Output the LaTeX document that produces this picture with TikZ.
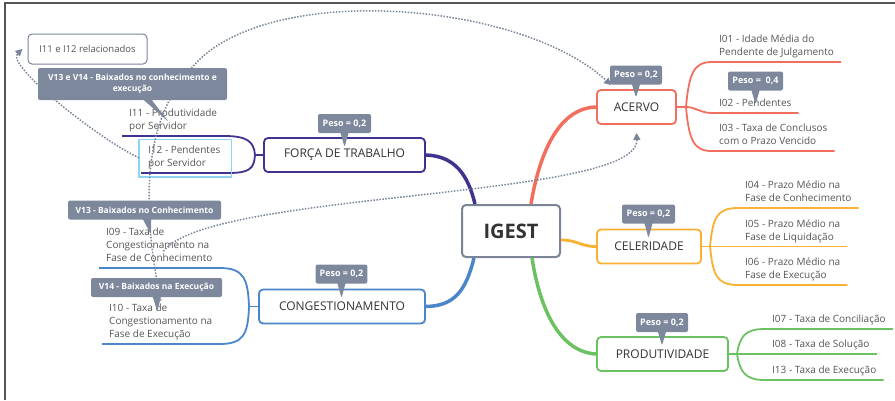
\documentclass[tikz,border=0pt]{standalone}
\usepackage{fontspec}
\setmainfont{Open Sans}
\usetikzlibrary{shapes.callouts, arrows.meta}

\definecolor{acervored}{HTML}{F26E5E}
\definecolor{celorange}{HTML}{F8B133}
\definecolor{prodgreen}{HTML}{6CC262}
\definecolor{forcapurple}{HTML}{3E338F}
\definecolor{congblue}{HTML}{4A86C8}
\definecolor{pesogray}{HTML}{7D889C}
\definecolor{igestgray}{HTML}{7B8597}
\definecolor{reldots}{HTML}{7A8599}
\definecolor{topictext}{HTML}{333333}
\definecolor{subtext}{HTML}{555555}
\definecolor{selblue}{HTML}{8ED4F2}
\definecolor{framegray}{HTML}{555555}

\tikzset{
  root/.style={draw=igestgray, line width=2pt, rounded corners=4pt, fill=white,
    minimum width=98pt, minimum height=52pt,
    font=\fontsize{20}{24}\selectfont\bfseries, text=topictext},
  topic/.style={line width=1.8pt, rounded corners=4pt, fill=white, minimum height=34pt,
    font=\fontsize{12}{14}\selectfont, text=topictext},
  sub/.style={anchor=south west, align=left, inner xsep=7pt, inner ysep=3.5pt,
    text depth=2.5pt, font=\fontsize{10}{13}\selectfont, text=subtext},
  peso/.style={rectangle callout, fill=pesogray, text=white, rounded corners=2pt,
    font=\fontsize{9}{11}\selectfont\bfseries, minimum height=19pt,
    inner xsep=4pt, inner ysep=2pt, callout pointer width=8pt},
  baixa/.style={peso, font=\fontsize{8.5}{11}\selectfont\bfseries},
  limb/.style={line width=3.5pt},
  twig/.style={line width=1.8pt},
  rel/.style={draw=reldots, line width=1.5pt, dash pattern=on 1.5pt off 1.5pt,
    -{Triangle[length=7pt,width=7pt]}},
}

\begin{document}
\begin{tikzpicture}[x=1pt, y=-1pt]
        \useasboundingbox (0,0) rectangle (895,400);
        \draw[framegray, line width=1.5pt] (5,400) -- (5,3) -- (895,3);

        % central topic and main topics
        \node[root] (igest) at (511,231) {IGEST};
        \node[topic, draw=acervored, minimum width=79pt] (acervo) at (636.5,107) {ACERVO};
        \node[topic, draw=celorange, minimum width=104pt] (celer) at (649,246.5) {CELERIDADE};
        \node[topic, draw=prodgreen, minimum width=131pt] (produt) at (662.5,354) {PRODUTIVIDADE};
        \node[topic, draw=forcapurple, minimum width=161pt] (forca) at (344.5,155) {FORÇA DE TRABALHO};
        \node[topic, draw=congblue, minimum width=166pt] (congest) at (342,306.5) {CONGESTIONAMENTO};

        \draw[limb, acervored] ([xshift=20pt]igest.north) .. controls (540,150) and (560,108) .. (acervo.west);
        \draw[limb, forcapurple] ([xshift=-36pt]igest.north) .. controls (468,175) and (455,156) .. (forca.east);
        \draw[limb, congblue] ([xshift=-37pt]igest.south) .. controls (466,290) and (455,306) .. (congest.east);
        \draw[limb, prodgreen] ([xshift=21pt]igest.south) .. controls (540,310) and (560,352) .. (produt.west);
        \draw[line width=2.8pt, celorange] ([yshift=-9pt]igest.east) .. controls (578,240) and (580,246.5) .. (celer.west);

        % subtopics
        \coordinate (afork) at (686,107);
        \coordinate (cfork) at (710,246.5);
        \coordinate (pfork) at (737,354);
        \coordinate (ffork) at (255,155);
        \coordinate (gfork) at (249,306.5);

        \node[sub] (i01) at (712,62) {I01 - Idade Média do\\Pendente de Julgamento};
        \node[sub] (i02) at (712,113) {I02 - Pendentes};
        \node[sub] (i03) at (712,151) {I03 - Taxa de Conclusos\\com o Prazo Vencido};
        \node[sub] (i04) at (738,208) {I04 - Prazo Médio na\\Fase de Conhecimento};
        \node[sub] (i05) at (738,246.5) {I05 - Prazo Médio na\\Fase de Liquidação};
        \node[sub] (i06) at (738,285) {I06 - Prazo Médio na\\Fase de Execução};
        \node[sub] (i07) at (765,329) {I07 - Taxa de Conciliação};
        \node[sub] (i08) at (765,354) {I08 - Taxa de Solução};
        \node[sub] (i13) at (765,380) {I13 - Taxa de Execução};
        \node[sub] (i11) at (122,136) {I11 - Produtividade\\por Servidor};
        \node[sub] (i12) at (141,173) {I12 - Pendentes\\por Servidor};
        \node[sub] (i09) at (99,268) {I09 - Taxa de\\Congestionamento na\\Fase de Conhecimento};
        \node[sub] (i10) at (102,344) {I10 - Taxa de\\Congestionamento na\\Fase de Execução};

        \draw[twig, acervored] (acervo.east) -- (afork);
        \draw[twig, acervored] (afork) .. controls +(3,-34) and +(-18,0) .. (i01.south west) -- (i01.south east);
        \draw[twig, acervored] (afork) .. controls +(10,0) and +(-12,0) .. (i02.south west) -- (i02.south east);
        \draw[twig, acervored] (afork) .. controls +(3,34) and +(-18,0) .. (i03.south west) -- (i03.south east);

        \draw[twig, celorange] (celer.east) -- (cfork) -- (i05.south west) -- (i05.south east);
        \draw[twig, celorange] (cfork) .. controls +(3,-28) and +(-22,0) .. (i04.south west) -- (i04.south east);
        \draw[twig, celorange] (cfork) .. controls +(3,28) and +(-22,0) .. (i06.south west) -- (i06.south east);

        \draw[twig, prodgreen] (produt.east) -- (pfork) -- (i08.south west) -- (i08.south east);
        \draw[twig, prodgreen] (pfork) .. controls +(3,-18) and +(-20,0) .. (i07.south west) -- (i07.south east);
        \draw[twig, prodgreen] (pfork) .. controls +(3,18) and +(-20,0) .. (i13.south west) -- (i13.south east);

        \draw[twig, forcapurple] (forca.west) -- (ffork);
        \draw[twig, forcapurple] (ffork) .. controls +(-1,-14) and +(22,0) .. (i11.south east) -- (i11.south west);
        \draw[twig, forcapurple] (ffork) .. controls +(-1,14) and +(22,0) .. (i12.south east) -- (i12.south west);

        \draw[twig, congblue] (congest.west) -- (gfork);
        \draw[twig, congblue] (gfork) .. controls +(-1,-28) and +(24,0) .. (i09.south east) -- (i09.south west);
        \draw[twig, congblue] (gfork) .. controls +(-1,28) and +(24,0) .. (i10.south east) -- (i10.south west);

        \draw[selblue, line width=1.2pt] ([xshift=-2pt,yshift=3pt]i12.north west) rectangle ([xshift=4pt,yshift=-4pt]i12.south east);

        % relationships
        \node[draw=igestgray, line width=1pt, rounded corners=4pt, fill=white, minimum width=119pt,
            minimum height=30pt, font=\fontsize{9.5}{12}\selectfont, text=subtext] (rellabel) at (87.5,49) {I11 e I12 relacionados};
        \draw[rel] (i10.north) .. controls (140,200) and (145,120) .. (190,70)
            .. controls (260,-20) and (520,0) .. ([xshift=15pt,yshift=4pt]acervo.north west);
        \draw[rel] ([xshift=4pt,yshift=-5pt]i09.center) .. controls (210,190) and (640,200) .. ([yshift=-8pt]acervo.south);
        \draw[rel] ([xshift=-2pt]i12.west) .. controls (100,140) and (5,65) .. ([xshift=-5pt]rellabel.west);

        % callouts
        \node[peso, minimum width=52pt, callout relative pointer={(0pt,-13pt)}] (pacervo) at (636,75) {Peso = 0,2};
        \node[peso, minimum width=55pt, callout relative pointer={(0pt,-14pt)}] (pi02) at (755.5,81) {Peso = \ 0,4};
        \node[peso, minimum width=53pt, callout relative pointer={(0pt,-14.5pt)}] (pceler) at (648.5,214) {Peso = 0,2};
        \node[peso, minimum width=52pt, callout relative pointer={(0pt,-13.5pt)}] (pprodut) at (662,322.5) {Peso = 0,2};
        \node[peso, minimum width=53pt, callout relative pointer={(0pt,-14pt)}] (pforca) at (344.5,123.5) {Peso = 0,2};
        \node[peso, minimum width=51pt, callout relative pointer={(0pt,-14.5pt)}] (pcongest) at (341.5,274) {Peso = 0,2};
        \node[baixa, minimum width=189pt, minimum height=32pt, align=center,
            callout relative pointer={(21pt,-22pt)}] (v1314) at (132.5,84) {V13 e V14 - Baixados no conhecimento e\\execução};
        \node[baixa, minimum width=153pt, callout relative pointer={(4pt,-15pt)}] (v13) at (144.5,210) {V13 - Baixados no Conhecimento};
        \node[baixa, minimum width=131pt, callout relative pointer={(0.5pt,-14.5pt)}] (v14) at (156.5,287.5) {V14 - Baixados na Execução};
\end{tikzpicture}
\end{document}
